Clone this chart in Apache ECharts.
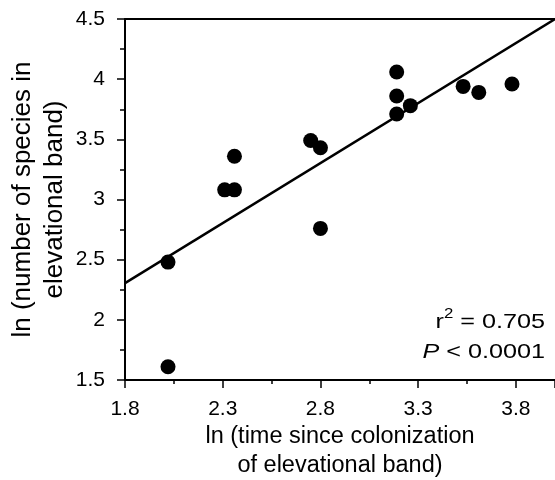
<!DOCTYPE html>
<html><head><meta charset="utf-8">
<script src="https://cdn.jsdelivr.net/npm/echarts@6/dist/echarts.min.js"></script>
<style>html,body{margin:0;padding:0;background:#fff}#c{width:555px;height:480px}</style>
</head><body><div id="c"></div>
<script>
var xValues = [3.19, 3.19, 3.19, 3.26, 3.53, 3.61, 3.78, 2.75, 2.80, 2.36, 2.31, 2.36, 2.80, 2.02, 2.02];
var yValues = [4.06, 3.86, 3.71, 3.78, 3.94, 3.89, 3.96, 3.49, 3.43, 3.36, 3.08, 3.08, 2.76, 2.48, 1.61];
var fitX = [1.8, 4.0];
var fitY = [2.305, 4.5];
var xTicks = [1.8, 2.3, 2.8, 3.3, 3.8];
var yTicks = [1.5, 2, 2.5, 3, 3.5, 4, 4.5];

var pts = xValues.map(function(x, i){ return [x, yValues[i]]; });
var line = fitX.map(function(x, i){ return [x, fitY[i]]; });
var font = 'Liberation Sans, Arial, sans-serif';
var chart = echarts.init(document.getElementById('c'));
chart.setOption({
  animation: false,
  grid: {left: 125, right: 0, top: 19, bottom: 100, containLabel: false, outerBoundsMode: 'none'},
  xAxis: [{
    type: 'value', min: 1.8, max: 4.0, interval: 0.5,
    name: 'ln (time since colonization\nof elevational band)',
    nameLocation: 'middle', nameGap: 42, nameMoveOverlap: false,
    nameTextStyle: {fontFamily: font, fontSize: 23.5, color: '#000', lineHeight: 29},
    axisLine: {show: true, onZero: false, lineStyle: {color: '#000', width: 2}},
    axisTick: {show: true, length: 8, lineStyle: {color: '#000', width: 1.5}},
    minorTick: {show: true, splitNumber: 2, length: 4, lineStyle: {color: '#000', width: 1.5}},
    axisLabel: {fontFamily: font, fontSize: 21, color: '#000', margin: 19,
      formatter: function(v){ return xTicks.indexOf(Math.round(v*10)/10) >= 0 ? v.toFixed(1) : ''; }},
    splitLine: {show: false}
  }, {
    type: 'value', position: 'top', min: 1.8, max: 4.0,
    axisLine: {show: true, lineStyle: {color: '#000', width: 2}},
    axisTick: {show: false}, axisLabel: {show: false}, splitLine: {show: false}
  }],
  yAxis: {
    type: 'value', min: 1.5, max: 4.5, interval: 0.5,
    name: 'ln (number of species in\nelevational band)',
    nameLocation: 'middle', nameGap: 54, nameRotate: 90, nameMoveOverlap: false,
    nameTextStyle: {fontFamily: font, fontSize: 26, color: '#000', lineHeight: 32},
    axisLine: {show: true, onZero: false, lineStyle: {color: '#000', width: 2}},
    axisTick: {show: true, length: 8, lineStyle: {color: '#000', width: 1.5}},
    minorTick: {show: true, splitNumber: 2, length: 5, lineStyle: {color: '#000', width: 1.5}},
    axisLabel: {fontFamily: font, fontSize: 21, color: '#000', margin: 20,
      formatter: function(v){ return String(v); }},
    splitLine: {show: false}
  },
  series: [{
    type: 'line', data: line, showSymbol: false, symbol: 'none',
    lineStyle: {color: '#000', width: 2.4}, z: 2
  }, {
    type: 'scatter', data: pts, symbol: 'circle', symbolSize: 15,
    itemStyle: {color: '#000', opacity: 1}, z: 3
  }],
  graphic: [{
    type: 'text', x: 545, y: 307, scaleX: 1.2,
    style: {
      text: '{n|r}{s|2}{n| = 0.705}\n{i|P}{n| < 0.0001}',
      align: 'right', textAlign: 'right', fill: '#000', lineHeight: 30,
      rich: {
        n: {fontFamily: font, fontSize: 21, fill: '#000', lineHeight: 30},
        s: {fontFamily: font, fontSize: 14, fill: '#000', verticalAlign: 'top', lineHeight: 30, padding: [0,0,12,0]},
        i: {fontFamily: font, fontSize: 21, fontStyle: 'italic', fill: '#000', lineHeight: 30}
      }
    }
  }]
});
</script></body></html>
